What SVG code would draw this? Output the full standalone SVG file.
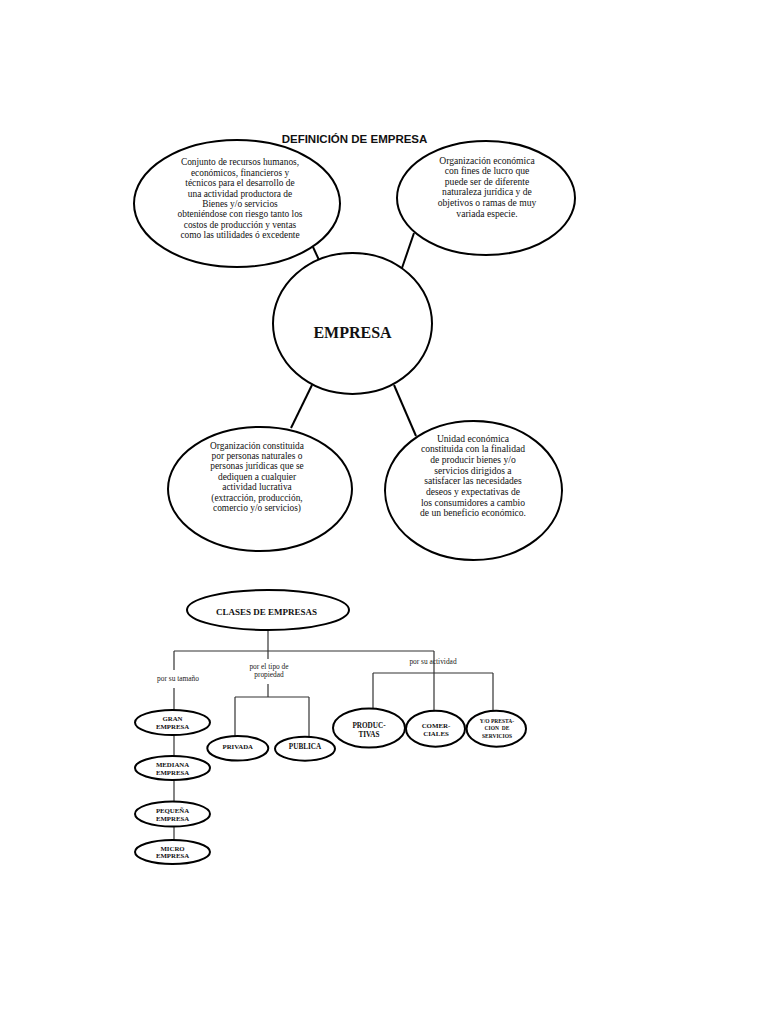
<svg xmlns="http://www.w3.org/2000/svg" width="768" height="1024" viewBox="0 0 768 1024">
<style>
.bg{fill:#fff}
.big{fill:#fff;stroke:#000;stroke-width:2}
.sm{fill:#fff;stroke:#000;stroke-width:2}
.t{font-family:"Liberation Serif","Times New Roman",serif;fill:#111;text-anchor:middle}
.b{font-family:"Liberation Serif","Times New Roman",serif;font-weight:bold;fill:#111;text-anchor:middle}
.title{font-family:"Liberation Sans",Arial,sans-serif;font-weight:bold;font-size:11.5px;fill:#111;text-anchor:middle}
.c1{stroke:#000;stroke-width:2;fill:none}
.c2{stroke:#333;stroke-width:1.2;fill:none}
.lab{font-family:"Liberation Serif","Times New Roman",serif;font-size:7.4px;fill:#222;text-anchor:middle}
</style>
<rect class="bg" x="0" y="0" width="768" height="1024"/>
<text class="title" x="354.5" y="142.5">DEFINICIÓN DE EMPRESA</text>

<g id="connectors">
<line class="c1" x1="313" y1="247" x2="319" y2="260"/>
<line class="c1" x1="414" y1="233" x2="402" y2="268"/>
<line class="c1" x1="312" y1="385" x2="291" y2="428"/>
<line class="c1" x1="394" y1="385" x2="416" y2="436"/>
<line class="c2" x1="268" y1="630" x2="268" y2="659"/>
<line class="c2" x1="174" y1="651" x2="434" y2="651"/>
<line class="c2" x1="174" y1="651" x2="174" y2="670"/>
<line class="c2" x1="174" y1="688" x2="174" y2="710"/>
<line class="c2" x1="174" y1="735" x2="174" y2="756"/>
<line class="c2" x1="174" y1="780" x2="174" y2="802"/>
<line class="c2" x1="174" y1="827" x2="174" y2="840"/>
<line class="c2" x1="268" y1="684" x2="268" y2="697"/>
<line class="c2" x1="235" y1="697" x2="309" y2="697"/>
<line class="c2" x1="235" y1="697" x2="235" y2="736"/>
<line class="c2" x1="309" y1="697" x2="309" y2="737"/>
<line class="c2" x1="434" y1="651" x2="434" y2="711"/>
<line class="c2" x1="373" y1="673" x2="493" y2="673"/>
<line class="c2" x1="373" y1="673" x2="373" y2="709"/>
<line class="c2" x1="493" y1="673" x2="493" y2="711"/>
</g>

<g id="n-def1">
<ellipse class="big" cx="237" cy="203.5" rx="103" ry="63.5"/>
<g class="t" font-size="9.4">
<text x="240" y="165.3">Conjunto de recursos humanos,</text>
<text x="240" y="175.7">económicos, financieros y</text>
<text x="240" y="186.1">técnicos para el desarrollo de</text>
<text x="240" y="196.5">una actividad productora de</text>
<text x="240" y="206.9">Bienes y/o servicios</text>
<text x="240" y="217.3">obteniéndose con riesgo tanto los</text>
<text x="240" y="227.7">costos de producción y ventas</text>
<text x="240" y="238.1">como las utilidades ó excedente</text>
</g>
</g>

<g id="n-def2">
<ellipse class="big" cx="486" cy="198" rx="89" ry="57"/>
<g class="t" font-size="9.6">
<text x="487" y="163.5">Organización económica</text>
<text x="487" y="174.1">con fines de lucro que</text>
<text x="487" y="184.7">puede ser de diferente</text>
<text x="487" y="195.3">naturaleza jurídica y de</text>
<text x="487" y="205.9">objetivos o ramas de muy</text>
<text x="487" y="216.5">variada especie.</text>
</g>
</g>

<g id="n-empresa">
<ellipse class="big" cx="352.5" cy="323.5" rx="79.5" ry="70.5"/>
<text class="b" x="352.5" y="337.5" font-size="16">EMPRESA</text>
</g>

<g id="n-def3">
<ellipse class="big" cx="260" cy="489" rx="92" ry="62"/>
<g class="t" font-size="9.4">
<text x="257" y="448.6">Organización constituida</text>
<text x="257" y="459">por personas naturales o</text>
<text x="257" y="469.4">personas jurídicas que se</text>
<text x="257" y="479.8">dediquen a cualquier</text>
<text x="257" y="490.2">actividad lucrativa</text>
<text x="257" y="500.6">(extracción, producción,</text>
<text x="257" y="511">comercio y/o servicios)</text>
</g>
</g>

<g id="n-def4">
<ellipse class="big" cx="473.5" cy="490.5" rx="88.5" ry="69.5"/>
<g class="t" font-size="9.6">
<text x="473" y="441.5">Unidad económica</text>
<text x="473" y="452.2">constituida con la finalidad</text>
<text x="473" y="462.9">de producir bienes y/o</text>
<text x="473" y="473.6">servicios dirigidos a</text>
<text x="473" y="484.3">satisfacer las necesidades</text>
<text x="473" y="495">deseos y expectativas de</text>
<text x="473" y="505.7">los consumidores a cambio</text>
<text x="473" y="516.4">de un beneficio económico.</text>
</g>
</g>

<g id="n-clases">
<ellipse class="sm" cx="268" cy="610" rx="81" ry="20"/>
<text class="b" x="266.5" y="615" font-size="9">CLASES DE EMPRESAS</text>
</g>

<g id="labels">
<text class="lab" x="178" y="681">por su tamaño</text>
<text class="lab" x="269" y="668.5">por el tipo de</text>
<text class="lab" x="269" y="676.8">propiedad</text>
<text class="lab" x="433" y="664">por su actividad</text>
</g>

<g id="n-gran">
<ellipse class="sm" cx="172.5" cy="722.5" rx="37.5" ry="12.5"/>
<text class="b" x="172.5" y="721.3" font-size="6.8">GRAN</text>
<text class="b" x="172.5" y="729.3" font-size="6.8">EMPRESA</text>
</g>
<g id="n-mediana">
<ellipse class="sm" cx="172.5" cy="768" rx="37.5" ry="12"/>
<text class="b" x="172.5" y="767.3" font-size="6.8">MEDIANA</text>
<text class="b" x="172.5" y="775" font-size="6.8">EMPRESA</text>
</g>
<g id="n-pequena">
<ellipse class="sm" cx="172.5" cy="814" rx="37.5" ry="12.5"/>
<text class="b" x="172.5" y="813" font-size="6.8">PEQUEÑA</text>
<text class="b" x="172.5" y="820.6" font-size="6.8">EMPRESA</text>
</g>
<g id="n-micro">
<ellipse class="sm" cx="172.5" cy="852" rx="37.5" ry="12"/>
<text class="b" x="172.5" y="850.6" font-size="6.8">MICRO</text>
<text class="b" x="172.5" y="858.3" font-size="6.8">EMPRESA</text>
</g>

<g id="n-privada">
<ellipse class="sm" cx="237.8" cy="748.3" rx="30.5" ry="12.3"/>
<text class="b" x="237.8" y="748.6" font-size="6.8">PRIVADA</text>
</g>
<g id="n-publica">
<ellipse class="sm" cx="305" cy="748.7" rx="30" ry="12"/>
<text class="b" x="305" y="749.3" font-size="7.2">PUBLICA</text>
</g>

<g id="n-productivas">
<ellipse class="sm" cx="369" cy="728" rx="36" ry="19.5"/>
<text class="b" x="369" y="727.6" font-size="7.2">PRODUC-</text>
<text class="b" x="369" y="737" font-size="7.2">TIVAS</text>
</g>
<g id="n-comerciales">
<ellipse class="sm" cx="435.5" cy="728.7" rx="29.5" ry="18"/>
<text class="b" x="436" y="727.6" font-size="6.9">COMER-</text>
<text class="b" x="436" y="735.7" font-size="6.9">CIALES</text>
</g>
<g id="n-servicios">
<ellipse class="sm" cx="496.3" cy="728.7" rx="29.7" ry="18"/>
<text class="b" x="497" y="722.5" font-size="5.5">Y/O PRESTA-</text>
<text class="b" x="497" y="730" font-size="5.5" xml:space="preserve">CION  DE</text>
<text class="b" x="497" y="737.5" font-size="5.5">SERVICIOS</text>
</g>
</svg>
